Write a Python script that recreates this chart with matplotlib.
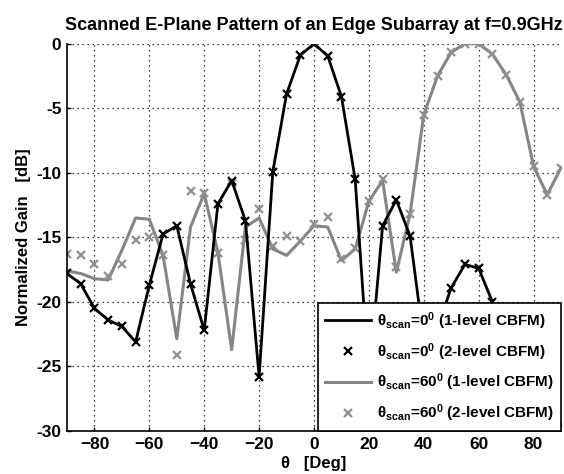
import numpy as np
import matplotlib
matplotlib.use("Agg")
import matplotlib.pyplot as plt

plt.rcParams['font.family'] = ['Liberation Sans', 'DejaVu Sans']
plt.rcParams['font.weight'] = 'bold'
plt.rcParams['mathtext.fontset'] = 'custom'
plt.rcParams['mathtext.bf'] = 'Liberation Sans:bold'
plt.rcParams['mathtext.rm'] = 'Liberation Sans:bold'
plt.rcParams['mathtext.it'] = 'Liberation Sans:bold'

theta = np.arange(-90, 91, 5)

# theta_scan = 0, 1-level CBFM
scan0_1lvl = [-17.8, -18.6, -20.5, -21.4, -21.9, -23.1, -18.7, -14.75, -14.1, -18.6,
              -22.2, -12.4, -10.6, -13.7, -25.8, -9.9, -3.9, -0.9, 0.0, -0.95,
              -4.1, -10.5, -26.0, -14.1, -12.1, -14.9, -23.0, -22.0, -18.9, -17.1,
              -17.4, -20.0, -25.0, -28.0, -29.0, -29.5, -29.5]
# theta_scan = 0, 2-level CBFM
scan0_2lvl = [-17.8, -18.6, -20.5, -21.4, -21.9, -23.1, -18.7, -14.75, -14.1, -18.6,
              -22.2, -12.4, -10.6, -13.7, -25.8, -9.9, -3.9, -0.9, 0.0, -0.95,
              -4.1, -10.5, -26.0, -14.1, -12.1, -14.9, -23.0, -22.0, -18.9, -17.1,
              -17.4, -20.0, -25.0, -28.0, -29.0, -29.5, -29.5]
# theta_scan = 60, 1-level CBFM
scan60_1lvl = [-17.6, -17.8, -18.2, -18.3, -16.0, -13.5, -13.6, -16.4, -22.85, -14.2,
               -11.6, -16.2, -23.7, -14.2, -13.5, -15.9, -16.4, -15.3, -14.1, -14.2,
               -16.8, -15.9, -12.2, -10.6, -17.7, -13.2, -5.5, -2.5, -0.66, 0.0,
               0.0, -0.8, -2.4, -4.5, -9.5, -11.7, -9.6]
# theta_scan = 60, 2-level CBFM
scan60_2lvl = [-16.3, -16.4, -17.1, -18.0, -17.1, -15.2, -15.0, -16.4, -24.1, -11.4,
               -11.6, -16.2, -10.8, -15.2, -12.8, -15.65, -14.9, -15.3, -14.0, -13.4,
               -16.7, -15.8, -12.2, -10.5, -17.3, -13.2, -5.5, -2.5, -0.66, 0.0,
               0.0, -0.8, -2.4, -4.5, -9.5, -11.7, -9.6]

fig = plt.figure(figsize=(5.64, 4.74), dpi=100)
ax = fig.add_axes([67/564, 1-431/474, (561-67)/564, (431-43.7)/474])

gray_line = '#858585'
gray_mark = '#8f8f8f'

ax.plot(theta, scan0_1lvl, color='black', lw=2.0,
        label=r'θ$_{\mathbf{scan}}$=0$^{\mathbf{0}}$ (1-level CBFM)', zorder=3)
ax.plot(theta, scan0_2lvl, ls='none', marker='x', color='black', ms=6, mew=1.6,
        label=r'θ$_{\mathbf{scan}}$=0$^{\mathbf{0}}$ (2-level CBFM)', zorder=4)
ax.plot(theta, scan60_1lvl, color=gray_line, lw=2.2,
        label=r'θ$_{\mathbf{scan}}$=60$^{\mathbf{0}}$ (1-level CBFM)', zorder=2)
ax.plot(theta, scan60_2lvl, ls='none', marker='x', color=gray_mark, ms=6, mew=1.6,
        label=r'θ$_{\mathbf{scan}}$=60$^{\mathbf{0}}$ (2-level CBFM)', zorder=2)

ax.set_xlim(-90, 90)
ax.set_ylim(-30, 0)
ax.set_xticks([-80, -60, -40, -20, 0, 20, 40, 60, 80])
ax.set_yticks([0, -5, -10, -15, -20, -25, -30])
ax.set_yticklabels(['0', '-5', '-10', '-15', '-20', '-25', '-30'])
ax.tick_params(labelsize=12.5, direction='in', length=3, width=1, pad=4)
for lab in ax.get_xticklabels() + ax.get_yticklabels():
    lab.set_fontweight('bold')

ax.grid(True, color='black', ls=(0, (1, 3)), lw=0.9)
ax.spines['top'].set_visible(False)
ax.spines['right'].set_visible(False)
ax.spines['left'].set_linewidth(1.2)
ax.spines['bottom'].set_linewidth(1.2)

ax.set_title('Scanned E-Plane Pattern of an Edge Subarray at f=0.9GHz',
             fontsize=13, fontweight='bold', pad=10)
ax.set_xlabel('θ   [Deg]', fontsize=12, fontweight='bold', labelpad=3)
ax.set_ylabel('Normalized Gain   [dB]', fontsize=12, fontweight='bold', labelpad=4)

leg = ax.legend(loc='lower right', bbox_to_anchor=(1.0, 0.0), borderaxespad=0,
                fontsize=11, frameon=True, fancybox=False, framealpha=1,
                edgecolor='black', handlelength=3.0, labelspacing=0.6,
                borderpad=0.45, handletextpad=0.4)
leg.get_frame().set_linewidth(1.2)
leg.set_zorder(10)

fig.savefig('out.png', dpi=100)
